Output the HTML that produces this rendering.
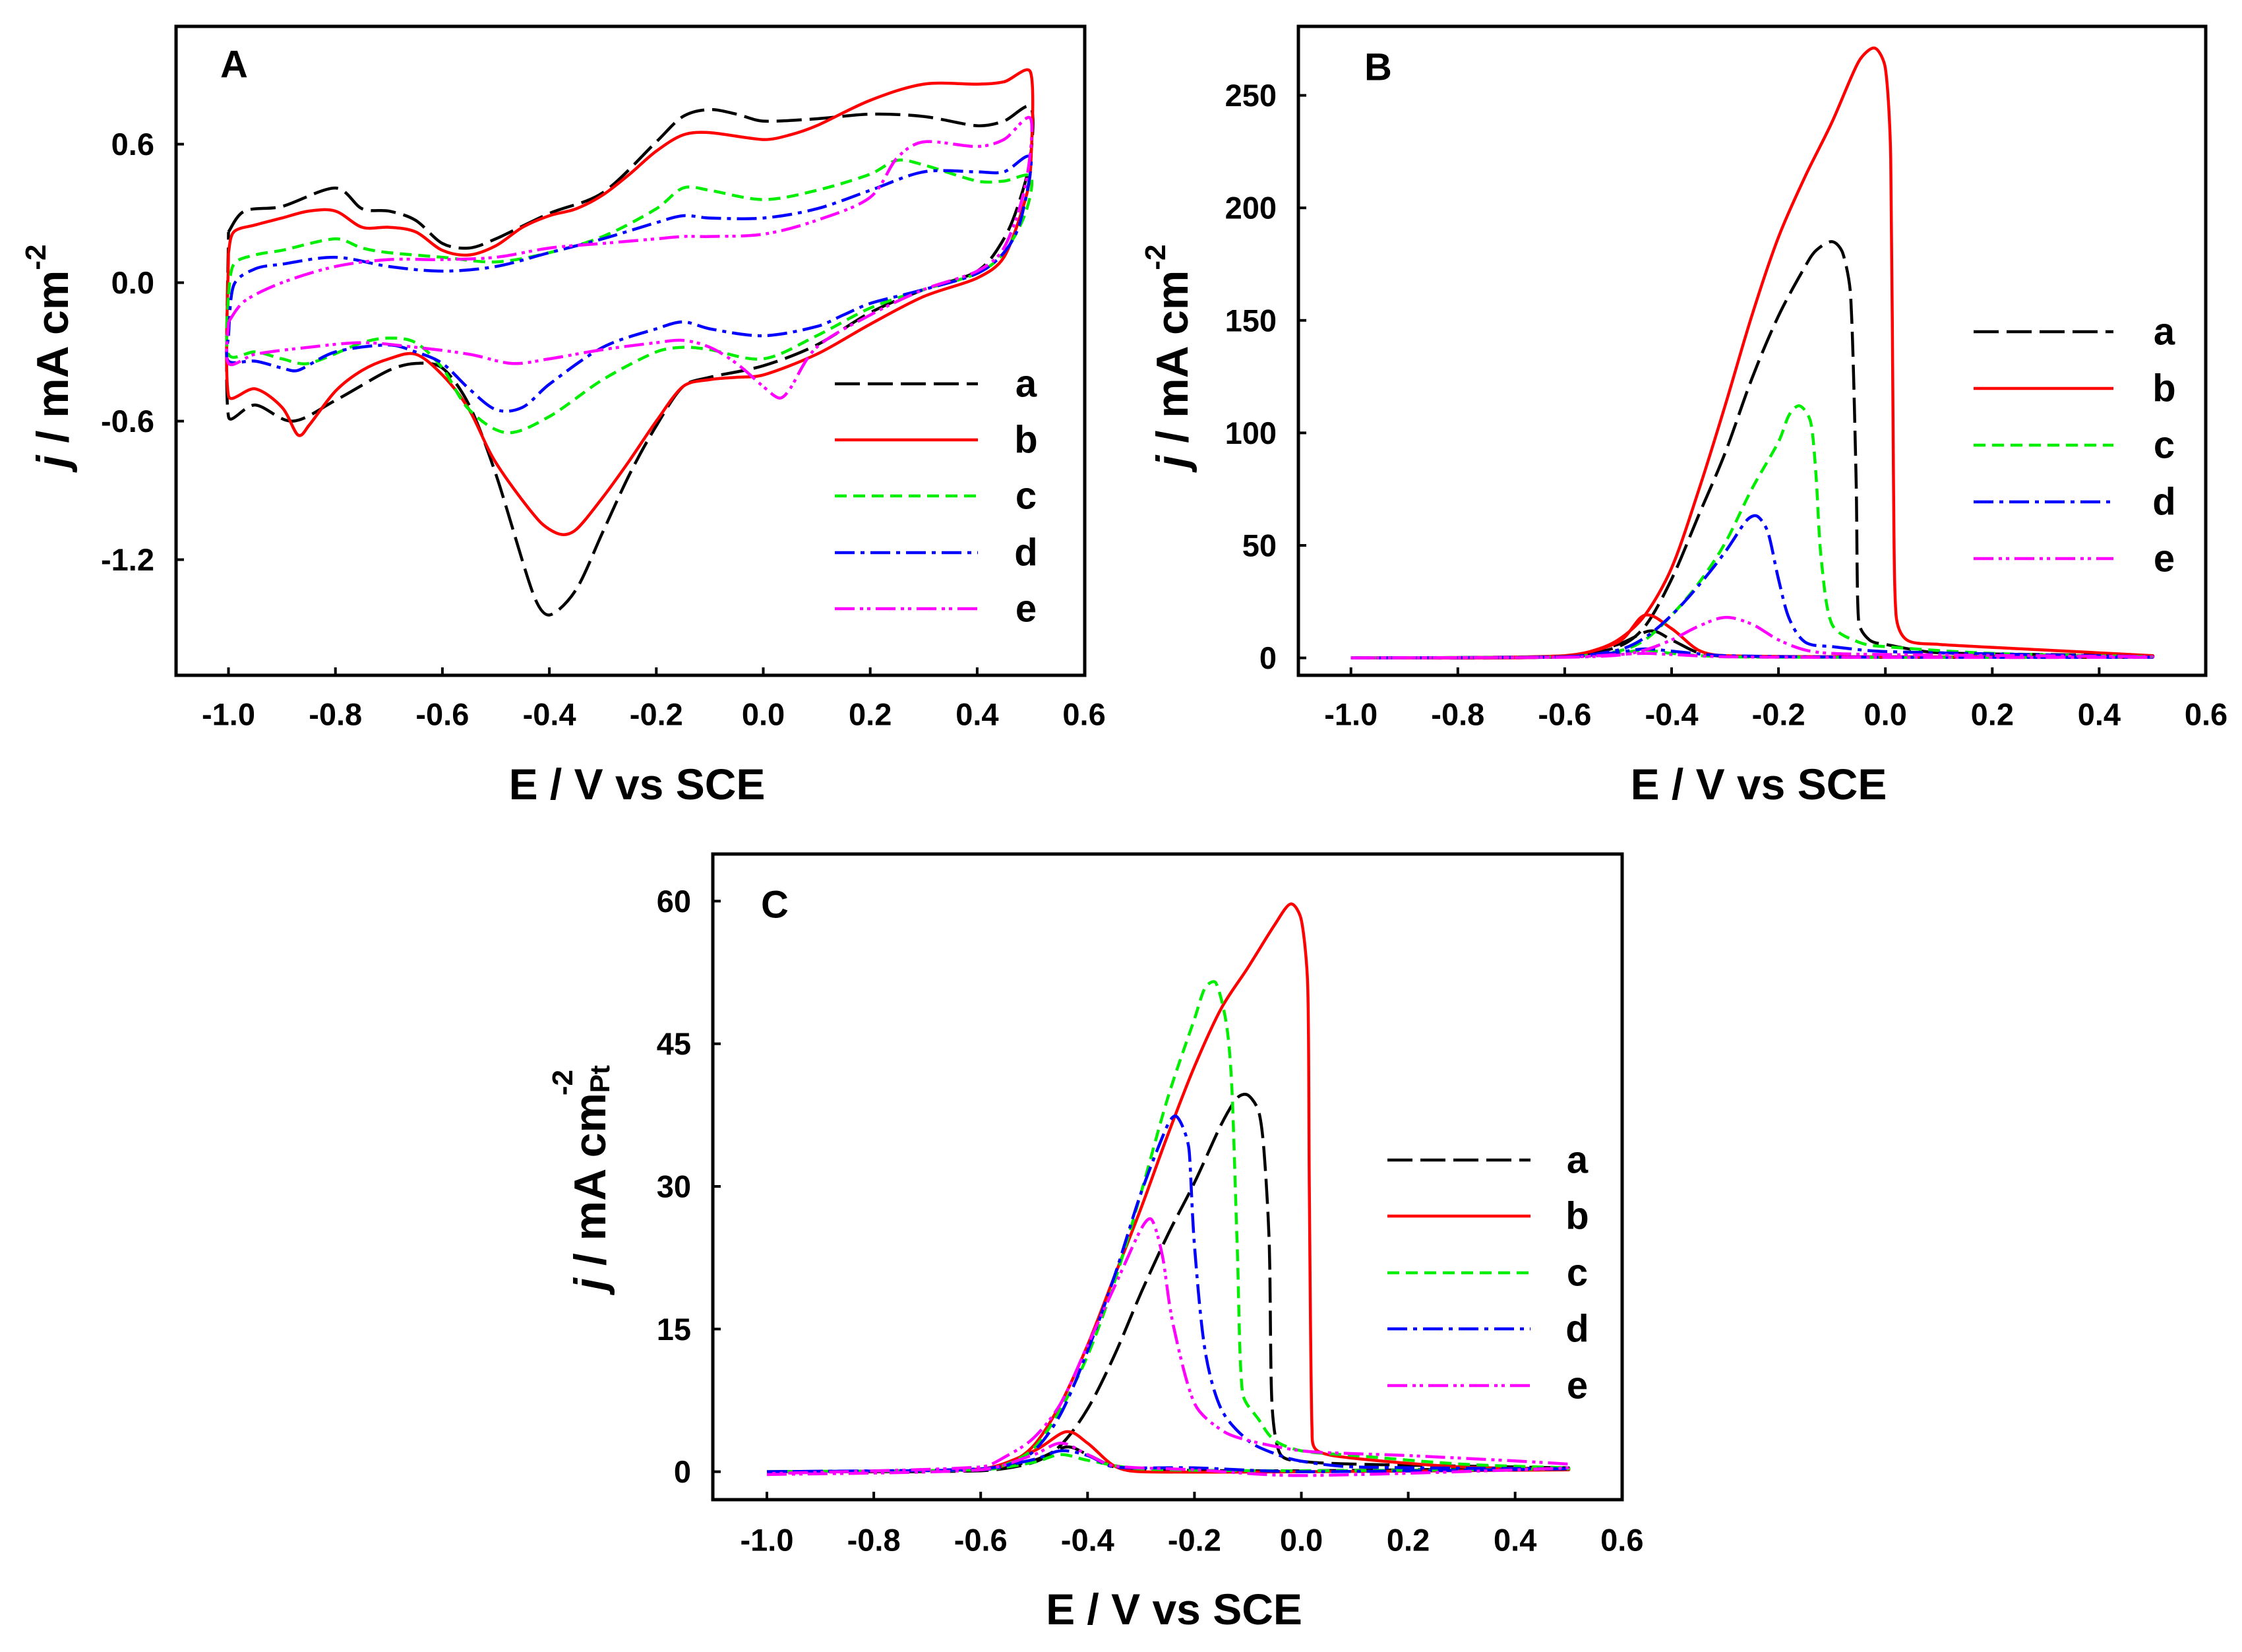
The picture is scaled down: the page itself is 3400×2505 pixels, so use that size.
<!DOCTYPE html>
<html><head><meta charset="utf-8"><style>
html,body{margin:0;padding:0;background:#fff;}
svg{display:block;}
text{font-family:"Liberation Sans",Arial,sans-serif;font-weight:bold;fill:#000;}
</style></head><body>
<svg id="fig" width="3400" height="2505" viewBox="0 0 3400 2505" xmlns="http://www.w3.org/2000/svg">
<rect width="3400" height="2505" fill="#fff"/>
</svg>
<script>
// ---------- Panel A data (CV) ----------
const A_a_E=[-1.0,-0.97,-0.9,-0.8,-0.75,-0.7,-0.65,-0.6,-0.55,-0.5,-0.4,-0.3,-0.2,-0.15,-0.1,-0.05,0.0,0.1,0.2,0.3,0.4,0.45,0.5,0.5,0.48,0.45,0.4,0.3,0.2,0.1,0.0,-0.1,-0.15,-0.2,-0.25,-0.3,-0.35,-0.4,-0.43,-0.5,-0.55,-0.6,-0.65,-0.7,-0.8,-0.88,-0.95,-1.0,-1.0];
const A_a_J=[0.22,0.31,0.33,0.41,0.32,0.31,0.27,0.17,0.15,0.19,0.30,0.39,0.61,0.72,0.75,0.73,0.70,0.71,0.73,0.72,0.68,0.70,0.76,0.55,0.36,0.19,0.05,-0.03,-0.13,-0.27,-0.36,-0.41,-0.45,-0.62,-0.83,-1.08,-1.33,-1.44,-1.35,-0.83,-0.53,-0.37,-0.35,-0.38,-0.51,-0.60,-0.53,-0.58,0.22];
const A_b_E=[-1.0,-0.99,-0.95,-0.9,-0.85,-0.8,-0.75,-0.7,-0.65,-0.6,-0.55,-0.5,-0.45,-0.4,-0.35,-0.3,-0.25,-0.2,-0.15,-0.1,0.0,0.05,0.1,0.2,0.3,0.4,0.45,0.5,0.5,0.49,0.45,0.4,0.3,0.2,0.1,0.0,-0.05,-0.1,-0.15,-0.2,-0.25,-0.3,-0.35,-0.38,-0.42,-0.5,-0.55,-0.6,-0.65,-0.7,-0.75,-0.8,-0.85,-0.87,-0.9,-0.95,-1.0,-1.0];
const A_b_J=[0.13,0.22,0.25,0.28,0.31,0.31,0.24,0.24,0.22,0.14,0.12,0.16,0.24,0.29,0.32,0.38,0.47,0.57,0.64,0.65,0.62,0.64,0.68,0.79,0.86,0.86,0.87,0.91,0.5,0.36,0.11,0.02,-0.06,-0.18,-0.31,-0.40,-0.41,-0.42,-0.45,-0.60,-0.77,-0.93,-1.07,-1.09,-1.03,-0.78,-0.55,-0.40,-0.31,-0.33,-0.38,-0.47,-0.62,-0.66,-0.54,-0.46,-0.49,0.13];
const A_c_E=[-1.0,-0.99,-0.95,-0.9,-0.8,-0.75,-0.7,-0.6,-0.5,-0.4,-0.3,-0.2,-0.15,-0.1,0.0,0.1,0.2,0.25,0.3,0.4,0.45,0.5,0.49,0.45,0.4,0.3,0.2,0.1,0.0,-0.1,-0.15,-0.2,-0.3,-0.4,-0.48,-0.55,-0.6,-0.65,-0.7,-0.75,-0.85,-0.9,-0.95,-1.0,-1.0];
const A_c_J=[-0.05,0.08,0.12,0.14,0.19,0.15,0.13,0.11,0.09,0.13,0.20,0.32,0.41,0.40,0.36,0.40,0.47,0.53,0.51,0.44,0.44,0.46,0.30,0.13,0.04,-0.03,-0.11,-0.23,-0.33,-0.29,-0.28,-0.30,-0.42,-0.58,-0.65,-0.55,-0.37,-0.26,-0.24,-0.26,-0.35,-0.33,-0.30,-0.31,-0.05];
const A_d_E=[-1.0,-0.99,-0.95,-0.9,-0.8,-0.7,-0.6,-0.5,-0.4,-0.3,-0.2,-0.15,-0.1,0.0,0.1,0.2,0.3,0.4,0.45,0.5,0.48,0.45,0.4,0.3,0.2,0.15,0.1,0.0,-0.1,-0.15,-0.2,-0.3,-0.4,-0.45,-0.5,-0.55,-0.6,-0.65,-0.7,-0.8,-0.87,-0.9,-0.95,-1.0,-1.0];
const A_d_J=[-0.23,-0.01,0.06,0.08,0.11,0.07,0.05,0.07,0.13,0.19,0.26,0.29,0.28,0.28,0.32,0.40,0.48,0.48,0.48,0.54,0.26,0.13,0.04,-0.03,-0.09,-0.14,-0.19,-0.23,-0.20,-0.17,-0.20,-0.28,-0.44,-0.54,-0.55,-0.46,-0.35,-0.30,-0.27,-0.30,-0.38,-0.37,-0.34,-0.34,-0.23];
const A_e_E=[-1.0,-0.97,-0.9,-0.8,-0.7,-0.6,-0.5,-0.4,-0.3,-0.2,-0.15,-0.1,0.0,0.1,0.2,0.25,0.3,0.4,0.45,0.5,0.49,0.45,0.4,0.3,0.2,0.1,0.05,0.03,0.0,-0.05,-0.1,-0.15,-0.2,-0.3,-0.4,-0.47,-0.55,-0.65,-0.75,-0.85,-0.95,-1.0,-1.0];
const A_e_J=[-0.17,-0.08,0.00,0.07,0.10,0.10,0.11,0.15,0.17,0.19,0.20,0.20,0.21,0.27,0.37,0.54,0.61,0.59,0.62,0.71,0.42,0.15,0.05,-0.03,-0.14,-0.28,-0.46,-0.50,-0.45,-0.35,-0.28,-0.25,-0.26,-0.29,-0.33,-0.35,-0.31,-0.28,-0.26,-0.28,-0.31,-0.35,-0.17];
const A_yTicks=[0.6,0.0,-0.6,-1.2];
const xTicks=[-1.0,-0.8,-0.6,-0.4,-0.2,0.0,0.2,0.4,0.6];
const xTickLabels=["-1.0","-0.8","-0.6","-0.4","-0.2","0.0","0.2","0.4","0.6"];
const A_yTickLabels=["0.6","0.0","-0.6","-1.2"];

// ---------- Panel B data ----------
const B_a_E=[-1.0,-0.6,-0.5,-0.44,-0.4,-0.35,-0.3,0.0,0.5,0.5,0.1,0.0,-0.03,-0.05,-0.055,-0.065,-0.08,-0.1,-0.13,-0.15,-0.2,-0.25,-0.3,-0.35,-0.4,-0.45,-0.5,-0.6,-1.0];
const B_a_J=[0,0.5,6,12,8,2.3,0.8,0.3,0.3,1,2.3,6,8,16,82,161,180,185,181,174,152,124,91,63,35,14,5,0.5,0];
const B_b_E=[-1.0,-0.6,-0.5,-0.45,-0.4,-0.35,-0.3,0.0,0.5,0.5,0.3,0.1,0.04,0.02,0.015,0.01,0.0,-0.02,-0.05,-0.1,-0.15,-0.2,-0.25,-0.3,-0.35,-0.4,-0.45,-0.5,-0.55,-0.6,-0.7,-1.0];
const B_b_J=[0,1,7,19,13,3.5,1,0.5,0.5,1,3.5,6,8,19,82,222,262,271,265,238,214,187,152,112,74,40,19,8,3,1,0,0];
const B_c_E=[-1.0,-0.6,-0.5,-0.45,-0.4,-0.3,0.0,0.5,0.5,0.2,0.0,-0.05,-0.1,-0.12,-0.13,-0.14,-0.16,-0.18,-0.2,-0.25,-0.3,-0.35,-0.4,-0.45,-0.5,-0.6,-1.0];
const B_c_J=[0,0.5,2,3.5,2,0.5,0.3,0.3,0.5,2,5,7,15,44,82,105,112,108,96,75,51,33,19,8,3,0.5,0];
const B_d_E=[-1.0,-0.6,-0.5,-0.45,-0.4,-0.3,0.0,0.5,0.5,0.0,-0.1,-0.15,-0.18,-0.2,-0.22,-0.24,-0.26,-0.3,-0.35,-0.4,-0.45,-0.5,-0.6,-1.0];
const B_d_J=[0,0.5,2.5,4,3,1,0.3,0.3,0.5,2.8,5,7,17.5,35,56,63,61,47,32,19,9,3.5,0.5,0];
const B_e_E=[-1.0,-0.6,-0.5,-0.45,-0.4,-0.3,0.0,0.5,0.5,0.0,-0.1,-0.15,-0.2,-0.25,-0.3,-0.35,-0.4,-0.45,-0.5,-0.6,-1.0];
const B_e_J=[0,0.3,1.5,2,1.5,0.5,0.2,0.3,0.5,1.5,2,3.5,8,15,18,14,8,3.5,1.2,0.3,0];
const B_yTicks=[0,50,100,150,200,250];
const B_yTickLabels=["0","50","100","150","200","250"];

// ---------- Panel C data ----------
const C_a_E=[-1.0,-0.6,-0.5,-0.44,-0.4,-0.35,-0.3,0.0,0.5,0.5,0.1,0.0,-0.04,-0.055,-0.06,-0.07,-0.08,-0.1,-0.12,-0.15,-0.2,-0.25,-0.3,-0.35,-0.4,-0.45,-0.5,-0.6,-1.0];
const C_a_J=[0,0.2,1.2,2.6,1.8,0.5,0.2,0.1,0.4,0.4,0.8,1.1,1.9,7.2,23.8,33.8,37.9,39.6,39.3,36.5,30.4,24.9,18.8,12.2,6.6,2.8,1.0,0.1,0];
const C_b_E=[-1.0,-0.6,-0.5,-0.44,-0.4,-0.35,-0.3,0.0,0.5,0.5,0.3,0.1,0.03,0.02,0.015,0.012,0.0,-0.02,-0.05,-0.1,-0.15,-0.2,-0.25,-0.3,-0.35,-0.4,-0.45,-0.5,-0.55,-0.6,-1.0];
const C_b_J=[0,0.3,2.2,4.2,3.0,0.6,0,0,0.2,0.3,0.5,1.4,2.2,4.4,29,51,58,59.7,57.5,53,48.7,42.6,35.4,27.7,20.5,13.3,7.2,2.8,0.8,0.2,0];
const C_c_E=[-1.0,-0.6,-0.5,-0.45,-0.4,-0.3,0.0,0.5,0.5,0.3,0.1,0.0,-0.05,-0.08,-0.11,-0.12,-0.13,-0.14,-0.16,-0.18,-0.2,-0.25,-0.3,-0.35,-0.4,-0.45,-0.5,-0.55,-0.6,-1.0];
const C_c_J=[0,0.2,1.0,1.8,1.2,0.3,0.1,0.3,0.4,0.8,1.7,2.2,3.3,5.5,8.3,23.8,40.4,47,51.4,50.9,47.6,39.3,29.3,19.9,12.2,6.6,2.5,0.8,0.2,0];
const C_d_E=[-1.0,-0.6,-0.5,-0.45,-0.4,-0.35,-0.2,0.0,0.5,0.5,0.1,0.0,-0.05,-0.1,-0.15,-0.18,-0.2,-0.21,-0.22,-0.235,-0.25,-0.3,-0.35,-0.4,-0.45,-0.5,-0.55,-0.6,-1.0];
const C_d_J=[0,0.3,1.3,2.2,1.7,0.5,0.4,0,0.3,0.3,0.5,1.1,1.9,3.3,6.6,12.7,23.8,33.8,36,37.4,36.5,29.3,20.5,12.7,6.1,2.2,0.7,0.2,0];
const C_e_E=[-1.0,-0.6,-0.5,-0.45,-0.4,-0.35,-0.2,0.0,0.5,0.5,0.2,0.1,0.0,-0.1,-0.15,-0.2,-0.24,-0.26,-0.28,-0.3,-0.35,-0.4,-0.45,-0.5,-0.55,-0.6,-1.0];
const C_e_J=[-0.3,0.2,1.8,3.0,1.8,0.6,0.2,-0.4,0.4,0.8,1.7,1.9,2.2,3.3,4.4,7.2,15.5,22.7,26.5,25.5,19.4,13.3,7.2,3.6,1.7,0.5,-0.2];
const C_yTicks=[0,15,30,45,60];
const C_yTickLabels=["0","15","30","45","60"];

const seriesNames=["a","b","c","d","e"];
const colors=["#000000","#ff0000","#00ee00","#0000ff","#ff00ff"];
const dashes=["38,12","none","18,10","30,9,6,9","30,8,5,6,5,8"];

const NS="http://www.w3.org/2000/svg";
const svg=document.getElementById('fig');
function mk(tag,attrs,parent){const e=document.createElementNS(NS,tag);for(const k in attrs)e.setAttribute(k,attrs[k]);(parent||svg).appendChild(e);return e;}

function cap(dx,dy,maxLen){const l=Math.hypot(dx,dy);if(l>maxLen&&l>0){const s=maxLen/l;return [dx*s,dy*s];}return [dx,dy];}
function catmull(pts){
  let d="M"+pts[0][0].toFixed(1)+","+pts[0][1].toFixed(1);
  for(let i=0;i<pts.length-1;i++){
    const p0=pts[i-1]||pts[i],p1=pts[i],p2=pts[i+1],p3=pts[i+2]||pts[i+1];
    const t=0.16;
    const seg=Math.hypot(p2[0]-p1[0],p2[1]-p1[1])*0.35;
    const a=cap((p2[0]-p0[0])*t,(p2[1]-p0[1])*t,seg);
    const b=cap((p3[0]-p1[0])*t,(p3[1]-p1[1])*t,seg);
    const c1=[p1[0]+a[0],p1[1]+a[1]];
    const c2=[p2[0]-b[0],p2[1]-b[1]];
    d+="C"+c1[0].toFixed(1)+","+c1[1].toFixed(1)+" "+c2[0].toFixed(1)+","+c2[1].toFixed(1)+" "+p2[0].toFixed(1)+","+p2[1].toFixed(1);
  }
  return d;
}

function panel(cfg){
  const g=mk('g',{});
  
  
  const sx=v=>cfg.x0+(v+1.0)/0.2*cfg.xstep;
  const sy=v=>cfg.yzero-(v/cfg.ystepVal)*cfg.ystepPx;
  cfg.series.forEach((s,i)=>{
    const pts=s.E.map((e,k)=>[sx(e),sy(s.J[k])]);
    const p=mk('path',{d:catmull(pts),fill:'none',stroke:colors[i],'stroke-width':4.5,'stroke-dasharray':dashes[i],'stroke-linejoin':'round'},g);
    
    
  });
  const box=mk('rect',{x:cfg.L,y:cfg.T,width:cfg.R-cfg.L,height:cfg.B-cfg.T,fill:'none',stroke:'#000','stroke-width':5},g);
  
  
  xTicks.forEach((v,i)=>{
    const x=sx(v);
    if(x<cfg.R-3){const t=mk('line',{x1:x,x2:x,y1:cfg.B,y2:cfg.B-12,stroke:'#000','stroke-width':4},g);
    
    }
    const tx=mk('text',{x:x,y:cfg.xLabY,'font-size':47,'text-anchor':'middle','dominant-baseline':'central'},g);
    tx.textContent=xTickLabels[i];
    
    
  });
  cfg.yTicks.forEach((v,i)=>{
    const y=sy(v);
    const t=mk('line',{x1:cfg.L,x2:cfg.L+12,y1:y,y2:y,stroke:'#000','stroke-width':4},g);
    
    
    const tx=mk('text',{x:cfg.L-33,y:y,'font-size':47,'text-anchor':'end','dominant-baseline':'central'},g);
    tx.textContent=cfg.yLabels[i];
    
    
  });
  cfg.legRows.forEach((ry,i)=>{
    const l=mk('line',{x1:cfg.legX1,x2:cfg.legX2,y1:ry,y2:ry,stroke:colors[i],'stroke-width':4.5,'stroke-dasharray':dashes[i]},g);
    
    
    const tx=mk('text',{x:cfg.legTX,y:ry,'font-size':58,'text-anchor':'middle','dominant-baseline':'central'},g);
    tx.textContent=seriesNames[i];
    
    
  });
  const pl=mk('text',{x:cfg.letX,y:cfg.letY,'font-size':58,'text-anchor':'middle','dominant-baseline':'central'},g);
  pl.textContent=cfg.letter;
  
  
  const xt=mk('text',{x:(cfg.L+cfg.R)/2+10,y:cfg.xTitleY,'font-size':66,'text-anchor':'middle','dominant-baseline':'central'},g);
  xt.textContent="E / V vs SCE";
  
  
  const yt=mk('text',{x:0,y:0,'font-size':68,'text-anchor':'middle','dominant-baseline':'central',transform:'translate('+cfg.yTitleX+','+cfg.yTitleY+') rotate(-90)'},g);
  
  
  yt.innerHTML=cfg.yTitleHTML;
}

panel({name:'panel-a',letter:'A',L:267,R:1645,T:40,B:1024,x0:346.5,xstep:162.2,yzero:428.6,ystepVal:0.6,ystepPx:210,
  series:[{E:A_a_E,J:A_a_J},{E:A_b_E,J:A_b_J},{E:A_c_E,J:A_c_J},{E:A_d_E,J:A_d_J},{E:A_e_E,J:A_e_J}],
  yTicks:A_yTicks,yLabels:A_yTickLabels,xLabY:1083,legRows:[582,667,752,838,923],legX1:1266,legX2:1483,legTX:1556,
  letX:355,letY:98,xTitleY:1189,yTitleX:80,yTitleY:540,
  yTitleHTML:'<tspan font-style="italic">j</tspan> / mA cm<tspan dy="-26" font-size="44">-2</tspan>'});
panel({name:'panel-b',letter:'B',L:1969,R:3345,T:40,B:1024,x0:2048.7,xstep:162.1,yzero:997.6,ystepVal:50,ystepPx:170.6,
  series:[{E:B_a_E,J:B_a_J},{E:B_b_E,J:B_b_J},{E:B_c_E,J:B_c_J},{E:B_d_E,J:B_d_J},{E:B_e_E,J:B_e_J}],
  yTicks:B_yTicks,yLabels:B_yTickLabels,xLabY:1083,legRows:[503,589,675,761,847],legX1:2993,legX2:3205,legTX:3282,
  letX:2090,letY:102,xTitleY:1189,yTitleX:1778,yTitleY:540,
  yTitleHTML:'<tspan font-style="italic">j</tspan> / mA cm<tspan dy="-26" font-size="44">-2</tspan>'});
panel({name:'panel-c',letter:'C',L:1081,R:2460,T:1295,B:2274,x0:1163,xstep:162.1,yzero:2231.6,ystepVal:15,ystepPx:216.3,
  series:[{E:C_a_E,J:C_a_J},{E:C_b_E,J:C_b_J},{E:C_c_E,J:C_c_J},{E:C_d_E,J:C_d_J},{E:C_e_E,J:C_e_J}],
  yTicks:C_yTicks,yLabels:C_yTickLabels,xLabY:2335,legRows:[1759,1844,1930,2015,2101],legX1:2104,legX2:2321,legTX:2392,
  letX:1175,letY:1372,xTitleY:2440,yTitleX:895,yTitleY:1786,
  yTitleHTML:'<tspan font-style="italic">j</tspan> / mA cm<tspan dy="14" font-size="42">Pt</tspan><tspan dy="-56" dx="-46" font-size="44">-2</tspan>'});
</script>
</body></html>
